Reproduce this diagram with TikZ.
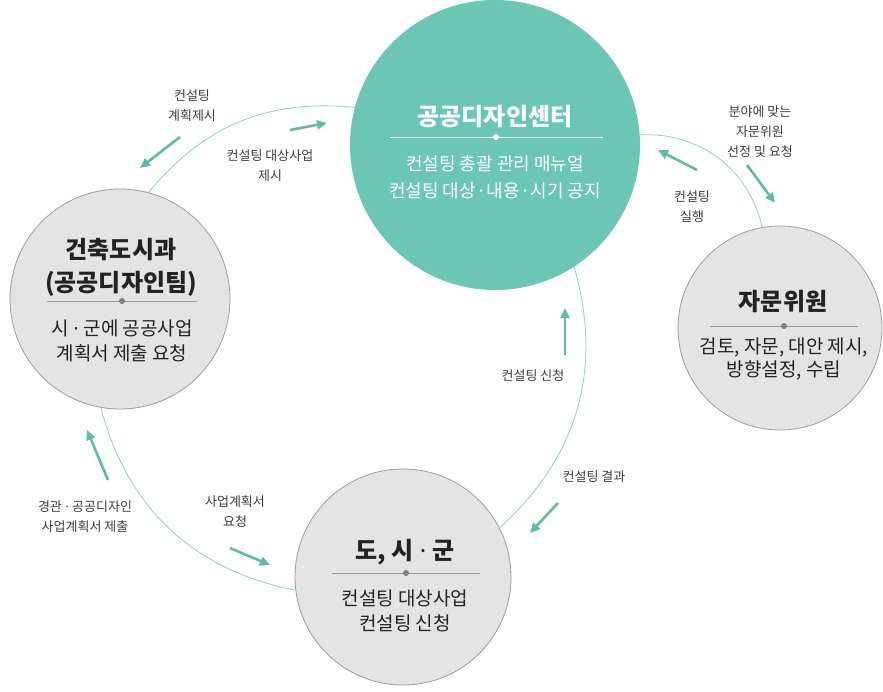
\documentclass[tikz,border=0pt]{standalone}
\usepackage{fontspec}
\setmainfont{Noto Sans CJK KR}
\newfontfamily\latinfont{Noto Sans}
\usetikzlibrary{arrows.meta}

\definecolor{hubteal}{HTML}{6CC6B6}
\definecolor{flowteal}{HTML}{5CBCA8}
\definecolor{ringteal}{HTML}{8ED1C4}
\definecolor{partyfill}{HTML}{E4E4E4}
\definecolor{partyedge}{HTML}{9C9C9C}
\definecolor{ink}{HTML}{222222}
\definecolor{labink}{HTML}{3C3C3C}

% narrow middle dot (the CJK one is full width)
\newcommand{\mdot}{{\latinfont\ ·\ }}
\newcommand{\tdot}{{\latinfont\,·\,}}

\tikzset{
  hub/.style={circle, fill=hubteal, inner sep=0pt, minimum size=290pt},
  party/.style={circle, fill=partyfill, draw=partyedge, line width=0.8pt, inner sep=0pt},
  ring/.style={ringteal, line width=0.8pt},
  flow/.style={flowteal, line width=2.6pt, -{Triangle[length=10pt,width=9pt]}},
  lab/.style={text=labink, align=center, font=\fontsize{13}{20}\selectfont},
  ttl/.style={text=ink, align=center, font=\bfseries\fontsize{24}{33}\selectfont},
  bdy/.style={text=ink, align=center, font=\fontsize{19}{25}\selectfont},
  pip/.style={circle, inner sep=0pt, minimum size=6pt},
}

\begin{document}
\begin{tikzpicture}[x=1pt,y=-1pt]
\useasboundingbox (0,0) rectangle (883,692);

% circles
\node[hub] (hub) at (495,145) {};
\node[party, minimum size=220pt] (dept) at (120,299) {};
\node[party, minimum size=204pt] (advisor) at (780,328) {};
\node[party, minimum size=216pt] (city) at (403,577) {};

% ring between the circles
\draw[ring] (dept.75) to[bend left=28] (hub.165);
\draw[ring] (hub.4) to[bend left=40] (advisor.100);
\draw[ring] (hub.-57) to[bend left=32] (city.27);
\draw[ring] (dept.-100) to[bend right=32] (city.187);

% texts in the circles
\node[ttl, text=white] (hubttl) at (495,117) {공공디자인센터};
\draw[white, line width=0.7pt] (390,137) -- (603,137);
\node[pip, fill=white] (hubpip) at (496,137) {};
\node[bdy, text=white, font=\fontsize{18}{27}\selectfont] (hubbdy) at (495,177) {컨설팅 총괄 관리 매뉴얼\\컨설팅 대상\tdot 내용\tdot 시기 공지};

\node[ttl] (deptttl) at (121,267) {건축도시과\\(공공디자인팀)};
\draw[partyedge, line width=0.7pt] (47,301) -- (197,301);
\node[pip, fill=gray] (deptpip) at (122,301) {};
\node[bdy] (deptbdy) at (122,341) {시\mdot 군에 공공사업\\계획서 제출 요청};

\node[ttl] (advttl) at (783,302) {자문위원};
\draw[partyedge, line width=0.7pt] (710,326) -- (858,326);
\node[pip, fill=gray] (advpip) at (784,326) {};
\node[bdy, font=\fontsize{19}{23}\selectfont] (advbdy) at (784,359) {검토, 자문, 대안 제시,\\방향설정, 수립};

\node[ttl] (cityttl) at (405,552) {도, 시\mdot 군};
\draw[partyedge, line width=0.7pt] (332,573) -- (480,573);
\node[pip, fill=gray] (citypip) at (406,573) {};
\node[bdy] (citybdy) at (405,611) {컨설팅 대상사업\\컨설팅 신청};

% flow labels
\node[lab] (planlab) at (192,106) {컨설팅\\계획제시};
\node[lab] (targetlab) at (270,166) {컨설팅 대상사업\\제시};
\node[lab] (picklab) at (760,132) {분야에 맞는\\자문위원\\선정 및 요청};
\node[lab] (runlab) at (692,207) {컨설팅\\실행};
\node[lab] (applylab) at (533,376) {컨설팅 신청};
\node[lab] (resultlab) at (594,477) {컨설팅 결과};
\node[lab] (submitlab) at (85,517) {경관\mdot 공공디자인\\사업계획서 제출};
\node[lab] (asklab) at (235,512) {사업계획서\\요청};

% flow arrows
\coordinate (plan1) at (180,137);   \coordinate (plan2) at (140,168);
\coordinate (target1) at (290,130); \coordinate (target2) at (327,123);
\coordinate (pick1) at (747,165);   \coordinate (pick2) at (775,203);
\coordinate (run1) at (697,170);    \coordinate (run2) at (658,150);
\coordinate (apply1) at (565,355);  \coordinate (apply2) at (565,308);
\coordinate (result1) at (558,503); \coordinate (result2) at (530,533);
\coordinate (submit1) at (108,480); \coordinate (submit2) at (87,430);
\coordinate (ask1) at (230,548);    \coordinate (ask2) at (270,565);
\draw[flow] (plan1) -- (plan2);
\draw[flow] (target1) -- (target2);
\draw[flow] (pick1) -- (pick2);
\draw[flow] (run1) -- (run2);
\draw[flow] (apply1) -- (apply2);
\draw[flow] (result1) -- (result2);
\draw[flow] (submit1) -- (submit2);
\draw[flow] (ask1) -- (ask2);
\end{tikzpicture}
\end{document}
